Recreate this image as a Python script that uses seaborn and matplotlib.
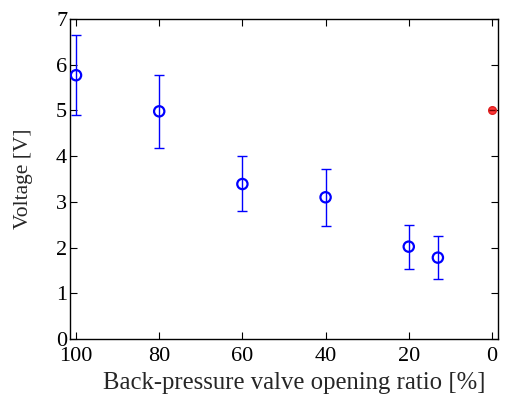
import matplotlib
matplotlib.use("Agg")
import matplotlib.pyplot as plt
import seaborn as sns
import pandas as pd
import numpy as np

# data
opening = [100, 80, 60, 40, 20, 13]
voltage = [5.77, 4.98, 3.39, 3.10, 2.02, 1.78]
err_low = [4.89, 4.18, 2.79, 2.48, 1.53, 1.32]
err_high = [6.65, 5.77, 4.01, 3.71, 2.50, 2.25]

ref_opening = [0]
ref_voltage = [5.0]

x_ticks = [100, 80, 60, 40, 20, 0]
y_ticks = [0, 1, 2, 3, 4, 5, 6, 7]

sns.set_style("ticks")
plt.rcParams['font.family'] = ['Liberation Serif', 'DejaVu Serif']

df = pd.DataFrame({'opening': opening, 'voltage': voltage})
yerr = np.array([np.array(voltage) - np.array(err_low),
                 np.array(err_high) - np.array(voltage)])

fig = plt.figure(figsize=(5.05, 3.94), dpi=100)
ax = fig.add_axes([0.1386, 0.1396, 0.8475, 0.8122])

# error bars
ax.errorbar(opening, voltage, yerr=yerr, fmt='none', ecolor='blue',
            elinewidth=1.0, capsize=3.5, capthick=1.0, zorder=2)
# markers
sns.scatterplot(data=df, x='opening', y='voltage', ax=ax, marker='o',
                s=55, facecolors='none', edgecolor='blue', linewidth=1.6,
                zorder=3, legend=False)

# reference point at 0 %
ax.plot(ref_opening, ref_voltage, 'o', color='#ff3838', markersize=5.5,
        mec='#e02020', zorder=4)
ax.plot(ref_opening, ref_voltage, '_', color='#7a0000', markersize=5,
        mew=1.0, zorder=5)

ax.set_xlim(101.45, -1.45)
ax.set_ylim(0, 7)
ax.set_xticks(x_ticks)
ax.set_yticks(y_ticks)
ax.tick_params(direction='in', length=5, width=0.8, top=True, right=True,
               labelsize=16, colors='black')
ax.tick_params(axis='x', pad=6)
ax.tick_params(axis='y', pad=2)
for s in ax.spines.values():
    s.set_linewidth(1.0)
    s.set_color('black')

ax.set_xlabel('Back-pressure valve opening ratio [%]', fontsize=17.8)
ax.set_ylabel('Voltage [V]', fontsize=15.5)
ax.xaxis.set_label_coords(0.525, -0.103)
ax.yaxis.set_label_coords(-0.0865, 0.5)

fig.savefig('out.png', dpi=100)
plt.close(fig)
